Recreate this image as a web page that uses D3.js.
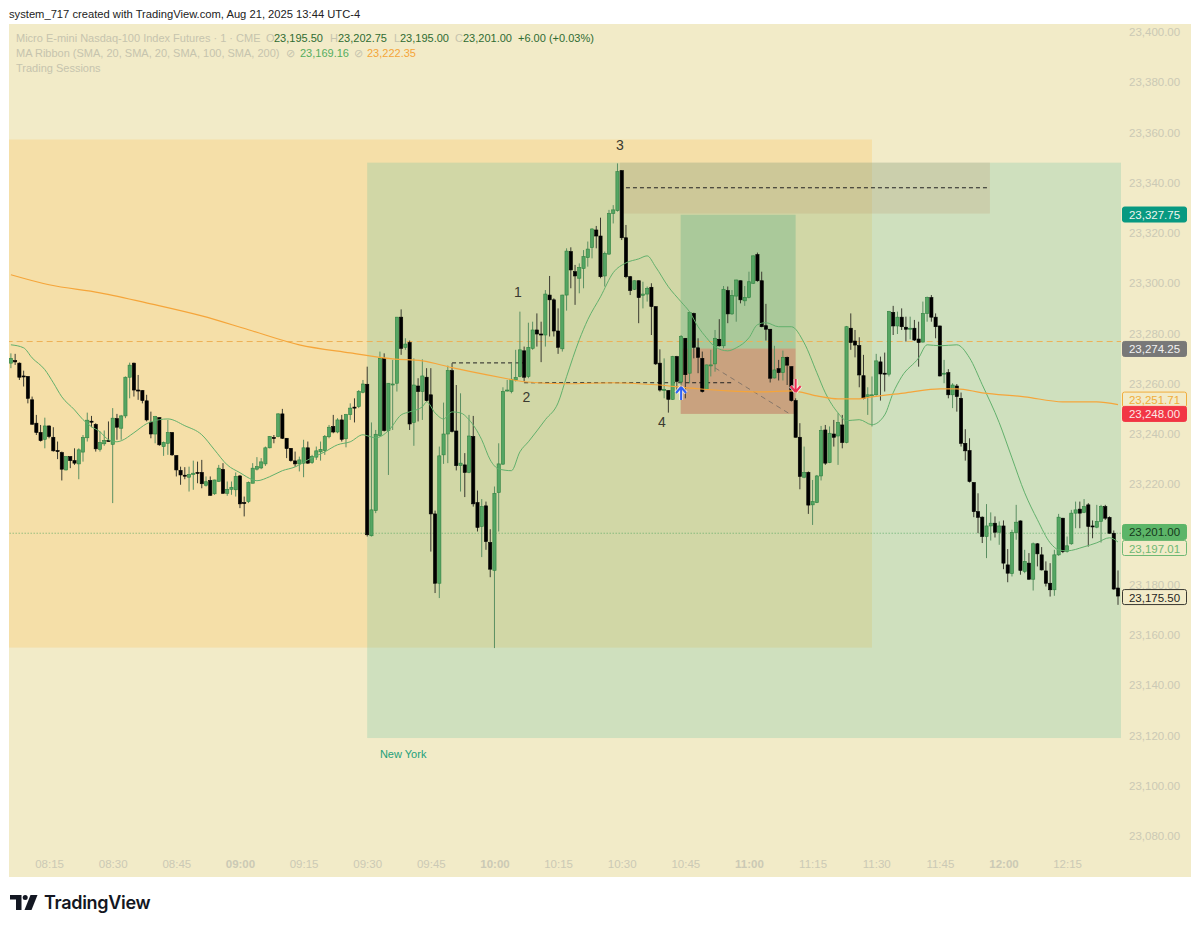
<!DOCTYPE html>
<html lang="en">
<head>
<meta charset="utf-8">
<title>MNQ 1 minute</title>
<script src="https://d3js.org/d3.v7.min.js"></script>
<style type="text/css">
  html, body { margin: 0; padding: 0; background: #fff; }
  svg { display: block; }
  text { font-family: "Liberation Sans", sans-serif; }
  .axis path, .axis line { display: none; }
  .axis text { fill: #cbc9b5; font-size: 11.5px; font-family: "Liberation Sans", sans-serif; }
</style>
</head>
<body>
<svg width="1200" height="929"></svg>
<script>

// one minute bars, bar 0 is 08:06
var opens = [
23268.2,23269.2,23268.2,23263.1,23262.9,23253.6,23244.3,23240.6,23237.9,23243.2,
23238.7,23233.4,23232.6,23225.7,23231,23229.4,23228.1,23232.8,23238.5,23245.1,
23243.8,23233.9,23236.1,23237.4,23235.9,23246.1,23242.3,23247.2,23262.6,23268.2,
23257.5,23257.3,23253.2,23244.7,23240,23246.5,23235,23236.3,23240.6,23231.4,
23225.5,23223.6,23222.8,23223.9,23224.7,23224.7,23219.6,23221.5,23216.2,23221.1,
23225.9,23216.4,23218,23217.8,23223.3,23212.7,23213.1,23220.4,23226,23226.5,
23228.1,23234.5,23238.6,23239,23248,23238.3,23234.3,23229.3,23228.1,23228.4,
23234.5,23228.6,23230.8,23232.9,23233.4,23238.9,23243,23240.8,23245.6,23238.1,
23247.7,23250.7,23250.9,23256.6,23259.8,23199.5,23209.5,23239.4,23270.1,23241.4,
23259.7,23260.2,23286.5,23274.5,23276.4,23244.6,23259.1,23256.9,23262.6,23255.6,
23208.2,23180.6,23231.7,23240,23265.2,23241.2,23227.4,23227.7,23224.7,23239,
23212.7,23203.2,23211.4,23196.8,23185.7,23216.7,23228,23257.3,23256.9,23261.5,
23262.9,23273.1,23262.9,23274.1,23281.4,23279.8,23279.4,23295.3,23293.4,23281,
23273.9,23295.3,23312.6,23304.6,23302,23305.9,23310.2,23314.2,23321.2,23318.8,
23302.9,23311.6,23327.8,23328.9,23344.8,23318.1,23302.6,23297.6,23301,23295.2,
23295.7,23298.4,23290.7,23268.2,23257.3,23257.3,23253.8,23270.8,23260.7,23278.1,
23264.2,23288,23274.3,23270.1,23257.8,23267.2,23267.9,23277.7,23275.1,23297.1,
23287.8,23294.9,23301,23293,23294.4,23300,23311.4,23301,23283.1,23281.7,
23262.3,23266,23264.4,23270.5,23266.8,23253.3,23238.7,23222.8,23224.7,23211.8,
23212.7,23223.3,23241.6,23228.6,23240,23239.2,23243.6,23236.6,23282.1,23277,
23275.2,23263.2,23254.9,23255.2,23255.6,23268.7,23264.2,23263.8,23288.4,23283,
23286.5,23282.5,23281.8,23282.1,23277.8,23276.6,23288,23294.3,23286.5,23283,
23263.8,23264.4,23255.6,23259.1,23254.2,23236.3,23233.4,23220.7,23209.1,23206.9,
23199.2,23203.4,23204.5,23200.9,23203.4,23187.9,23184.4,23200.8,23205.4,23185.3,
23188.6,23182.2,23196.3,23191.9,23185.5,23180.6,23178,23191.9,23206.5,23193.2,
23196.3,23208.5,23210.1,23208.8,23211.8,23203.4,23202.9,23205.2,23211.1,23206.8,
23200.5,23178.7];

var highs = [
23272.1,23271.9,23268.5,23265.2,23263,23254.9,23247.6,23243.6,23246.5,23243.4,
23242.7,23237,23233,23231.1,23231.1,23234.3,23234.3,23239.6,23248.5,23247.2,
23244.3,23241,23241.4,23245,23250.3,23248,23247.6,23262.9,23268.4,23268.4,
23263.5,23257.5,23255.6,23248.9,23247.2,23246.6,23237,23245.6,23240.7,23231.5,
23227,23226.8,23227,23229.4,23229,23229.7,23223.1,23223.1,23221.8,23227.7,
23228.4,23221.1,23221.1,23224.7,23223.7,23215.1,23221.1,23228.4,23230.8,23230.4,
23235,23239.2,23239.6,23248.3,23250,23238.4,23234.4,23233,23231,23237.7,
23237,23231.7,23235,23237,23239.6,23243.6,23247.6,23246.3,23247.6,23248,
23252.2,23254.2,23257.5,23261.5,23266.8,23244.6,23241.6,23272.8,23272.1,23260.3,
23269.5,23286.6,23289.6,23278.1,23277.2,23270.1,23262.2,23269.7,23266.2,23266.2,
23209.5,23235,23252.5,23267.2,23268.2,23259.5,23256.2,23232.4,23247.6,23247.2,
23217.5,23214.1,23213.1,23202.1,23219.1,23236.3,23258.6,23261.5,23268.2,23273.5,
23288.7,23274.8,23284.3,23284.7,23288,23284.7,23297.3,23302.9,23294,23290,
23295.4,23313.9,23314.3,23307.3,23307.9,23313.2,23316.6,23321.9,23322.8,23326.1,
23312.6,23329.2,23331.1,23347.7,23345,23323.2,23302.9,23301.1,23301.1,23300.6,
23298.7,23300,23290.8,23273.7,23270.1,23257.4,23271.1,23271.1,23279.4,23278.2,
23288.7,23288.3,23278.1,23272.8,23267.6,23273.5,23281.4,23285.7,23298.9,23298.7,
23297.3,23301.4,23301.1,23298.9,23304.6,23311.1,23312.2,23304.6,23291.8,23281.8,
23275.1,23269.5,23273.2,23270.8,23266.9,23254.2,23244.3,23235,23225.1,23221.7,
23223.7,23243.2,23243.6,23243,23245.6,23248.3,23247.6,23283,23288,23281.4,
23278.5,23271.5,23258.6,23262.9,23271.9,23270.8,23272.4,23289,23291,23288.7,
23290,23286.7,23286.7,23285.4,23284.7,23292.7,23294.7,23295.3,23288,23283.1,
23269.5,23265.8,23260.2,23259.9,23256.5,23241.9,23238.3,23220.8,23216.4,23207.2,
23212.1,23208.8,23207.2,23205.2,23205.6,23194.2,23201.9,23211.8,23205.6,23193.9,
23192.6,23196.8,23196.6,23195,23189.3,23188.6,23193.9,23208.2,23206.6,23199.2,
23209.8,23213.1,23213.1,23214.1,23212.5,23205.6,23211.8,23211.8,23211.8,23207.2,
23201.6,23185.7];

var lows = [
23266.2,23267.5,23261.5,23258.9,23252.2,23243.6,23239.6,23237,23234.3,23238.3,
23233,23230,23221.5,23225.5,23226.4,23227.7,23222,23229,23237,23242.7,
23233,23233,23235.3,23237,23212.5,23237.7,23237.7,23246.3,23254.2,23254.9,
23253.6,23252.2,23245,23238.3,23236.3,23235.3,23231.3,23231.7,23231.3,23223.1,
23219.8,23222,23217.1,23217.8,23220.4,23218.4,23219.1,23215.4,23215.8,23221,
23216.2,23215.4,23215.8,23215.1,23210.5,23207.2,23212.5,23220.4,23225.5,23226,
23227.3,23234.3,23236.3,23238.7,23238,23230.4,23229,23227,23225.1,23222.8,
23228.1,23228.1,23229.7,23229.4,23231.7,23238.3,23240.3,23240.3,23237,23234.7,
23245.6,23244.6,23250.3,23256.2,23199.2,23199.2,23208.5,23239,23241,23223.7,
23241.6,23256.9,23271.5,23273.5,23241.6,23235.3,23245,23245.6,23252.9,23193.2,
23176.7,23174.7,23228.1,23228.4,23240.6,23225.5,23217.1,23214.9,23224.4,23211.1,
23201.2,23191,23193.9,23183,23154.8,23201.2,23227.7,23256.9,23256.2,23260.9,
23262.6,23260.9,23262.2,23273.5,23274.8,23268.6,23274.8,23278.8,23278.8,23271.9,
23272.8,23289.1,23298,23291.4,23296,23298,23306.6,23309.9,23313.9,23302,
23298.7,23311.3,23323.8,23328.5,23317.2,23302,23295.3,23297.3,23284.1,23290,
23292.7,23279.4,23267.5,23256.9,23254.2,23248.5,23253.6,23256.2,23259.5,23254.2,
23260.2,23270.1,23264.2,23256.5,23257.5,23262.9,23264.8,23274.8,23274.1,23284.1,
23287.4,23284.7,23292,23291,23294,23299.7,23300.6,23282.5,23277.2,23260.5,
23262.1,23261.3,23261.3,23259.5,23252.9,23238.6,23218,23222.4,23208.2,23203.8,
23212.5,23221.5,23227.7,23228.4,23235,23227.7,23234.3,23236.3,23273.5,23270.5,
23258.6,23253.8,23247.6,23243,23255.3,23253.3,23256.9,23262.9,23279.4,23279.8,
23281.4,23276.8,23277.7,23277,23266.8,23276.4,23284.7,23284.7,23278.1,23262.9,
23260.2,23254.2,23250.3,23248.9,23235,23229.4,23220.7,23206.9,23200.5,23196.6,
23190.6,23197.6,23198.8,23195.9,23186.2,23181,23183.3,23197.9,23184,23184.6,
23182,23177.7,23187.3,23185.7,23179.3,23175.3,23175.6,23191.5,23192.6,23192.8,
23195.9,23202.5,23202.5,23208.5,23195.2,23198.5,23202.5,23196.8,23205.8,23200.3,
23178,23172];

var closes = [
23270.1,23268.7,23262.6,23262.9,23254.2,23243.9,23240.6,23237.4,23243.2,23239,
23233.3,23233,23226,23231,23229.4,23228.4,23233.7,23238.6,23245.5,23244.8,
23234.1,23236.6,23237.4,23237.1,23246.3,23242.7,23247.2,23262.6,23267.4,23257.5,
23257.3,23253.3,23245.6,23240,23246.9,23235.7,23236.6,23240.6,23231.7,23225.7,
23223.7,23223.2,23223.9,23224.4,23224.4,23220.2,23221,23215.6,23221.7,23226.4,
23216.4,23218,23218.8,23223.1,23212.2,23212.5,23220.7,23226.4,23227,23228.9,
23234.5,23239,23238.3,23248,23238.3,23234.2,23229.4,23228.1,23229.7,23234.5,
23228.4,23231,23233.3,23233.9,23239,23242.7,23240.8,23245.6,23237.9,23247.7,
23250.3,23250.4,23256.9,23259.9,23199.9,23209.8,23239.9,23270.1,23241.4,23260.2,
23259.9,23286.5,23274.1,23275.8,23244,23259.5,23256.9,23263.1,23253.3,23208.2,
23180.6,23231.3,23240,23265.2,23241,23227.4,23228.4,23224.7,23239.2,23212.2,
23202.8,23211.1,23197.2,23186.2,23216.4,23228.1,23256.9,23257.5,23261.8,23262.5,
23273.5,23262.6,23274.5,23281.4,23279.8,23279.4,23295.7,23293.4,23281,23274.5,
23295.3,23312.8,23305.3,23302.9,23306.3,23310.6,23313.6,23321.6,23318.8,23302.6,
23311.9,23327.8,23329.2,23344.4,23318.1,23302.6,23297.1,23301,23294.3,23295.7,
23298,23290.7,23267.9,23257.5,23257.8,23253.8,23270.8,23260.9,23278.8,23263.6,
23288.3,23274.5,23270.5,23256.9,23267.5,23267.5,23278.1,23275.1,23297.6,23287.8,
23295.2,23301.3,23293.4,23294.3,23300.6,23310.9,23301,23282.7,23281.7,23262.2,
23265.5,23264.4,23270.5,23267.4,23253.3,23238.7,23223.1,23224.7,23211.7,23213.1,
23223.3,23241.4,23228.4,23240.3,23238.7,23244.6,23236.6,23282.7,23276.4,23275.4,
23263.5,23254.2,23255.6,23255.6,23269.1,23263.9,23263.9,23288.7,23283,23286.5,
23282.7,23281.7,23282.1,23277.4,23276.4,23288,23294.3,23286.5,23282.7,23263.1,
23264.2,23255.6,23259.5,23254.9,23236.3,23233.3,23221.1,23209.1,23206.8,23199.2,
23203.4,23204.5,23200.9,23203.4,23188.6,23184.6,23200.8,23204.9,23185.7,23189.3,
23182.2,23196.3,23192.3,23185.9,23180.6,23178,23191.9,23206.9,23193.2,23195.5,
23208.5,23209.8,23208.5,23211.1,23203.2,23203.2,23205.2,23211.1,23206.5,23200.5,
23178.3,23175.5];

// moving averages at the bars listed
var ma20Bars = [0,3,5,8,10,12,15,17,19,21,23,25,26,29,32,35,37,41,45,48,51,54,57,58,61,64,67,70,74,77,80,83,84,86,89,92,94,97,98,100,102,104,106,108,111,113,115,118,120,122,126,129,131,134,136,139,142,145,148,150,152,155,158,160,162,164,166,169,171,174,176,178,181,184,187,190,192,195,197,200,203,206,208,210,214,216,219,223,226,229,233,236,239,242,245,247,249,253,256,259,261];
var ma20Values = [23275.5,23274.3,23270.3,23265.6,23260.4,23254.8,23249.6,23245.7,23242.9,23240.9,23237.7,23236.9,23237.3,23240.5,23244.1,23245.7,23246,23243.3,23239.7,23233.7,23227.7,23224.6,23221.8,23221.4,23223,23225.4,23226.9,23229.7,23232.9,23235.7,23236.9,23239.7,23239.3,23238.5,23241.3,23247.6,23248.8,23250.8,23252.8,23248.4,23246,23248.8,23248.4,23245.7,23237.7,23229.7,23226.1,23225.4,23232.9,23236.9,23245.7,23252.4,23262.8,23277.5,23285.5,23294.6,23304.2,23308.1,23309.7,23310.9,23306.5,23298.6,23292.6,23288.6,23282.7,23278.3,23274.7,23273.1,23274.3,23278.3,23283.5,23284.3,23282.7,23282.7,23276.3,23264.4,23256.4,23248.4,23245.3,23245.7,23243.7,23247.6,23256.4,23262.8,23270.3,23275.5,23275.1,23275.5,23270.3,23259.6,23244.5,23230.5,23216.6,23205.9,23196.7,23193.9,23193.5,23195.1,23196.7,23198.7,23197];

var ma200Bars = [0,9,21,33,45,56,68,80,90,97,104,112,117,121,131,142,152,162,169,177,184,190,195,200,203,211,219,223,229,239,248,256,261];
var ma200Values = [23303.4,23299.4,23296.2,23291.8,23287,23281.5,23275.5,23272.3,23269.9,23269.1,23266.4,23263.6,23262,23260.8,23260,23260.4,23259.6,23258,23257.2,23256.8,23257.2,23255.2,23254,23254,23254.8,23256.4,23258,23258,23256.4,23254.8,23252.8,23252.8,23251.7];

// axes
var priceTicks = [23400,23380,23360,23340,23320,23300,23280,23260,23240,23220,23200,23180,23160,23140,23120,23100,23080];
var timeTickBars = [9,24,39,54,69,84,99,114,129,144,159,174,189,204,219,234,249];
var timeTickLabels = ["08:15","08:30","08:45","09:00","09:15","09:30","09:45","10:00","10:15","10:30","10:45","11:00","11:15","11:30","11:45","12:00","12:15"];

// price tags on the axis: value, text colour, fill, border, nudge so they do not overlap
var tagLabels = ["23,327.75","23,274.25","23,251.71","23,248.00","23,201.00","23,197.01","23,175.50"];
var tagPrices = [23327.75,23274.25,23251.71,23248,23201,23197.01,23175.5];
var tagNudges = [1,1,-5,0,0,6,1];
var tagFills = ["#089981","#787878","#f2ebc8","#f23645","#5cb568","#f2ebc8","#f2ebc8"];
var tagStrokes = ["#089981","#787878","#f0ad3c","#f23645","#5cb568","#6fb874","#3a3a32"];
var tagTexts = ["#eef6ef","#f2f2f2","#f0ad3c","#fbe9e6","#16381c","#6fb874","#26261f"];

var svg = d3.select("svg"),
    pane = {left: 9, right: 1121, top: 24, bottom: 877},
    axisRight = 1191;

var xScale = d3.scaleLinear().domain([0, 261]).range([10.9, 1118]);
var yScale = d3.scaleLinear().domain([23080, 23400]).range([836, 32]);

// background, the price axis has the same colour
svg.append("rect")
    .attr("x", pane.left).attr("y", pane.top)
    .attr("width", axisRight - pane.left).attr("height", pane.bottom - pane.top)
    .attr("fill", "#f2ebc8");

svg.append("clipPath").attr("id", "paneClip").append("rect")
    .attr("x", pane.left).attr("y", pane.top)
    .attr("width", pane.right - pane.left).attr("height", pane.bottom - pane.top);

var g = svg.append("g").attr("clip-path", "url(#paneClip)");

function box(bar0, bar1, p0, p1, fill) {
  g.append("rect")
      .attr("x", xScale(bar0))
      .attr("y", yScale(p0))
      .attr("width", xScale(bar1) - xScale(bar0))
      .attr("height", yScale(p1) - yScale(p0))
      .attr("fill", fill);
}

function level(bar0, bar1, p0, p1, color, dash) {
  g.append("line")
      .attr("x1", xScale(bar0)).attr("x2", xScale(bar1))
      .attr("y1", yScale(p0)).attr("y2", yScale(p1))
      .attr("stroke", color)
      .attr("stroke-width", 1)
      .attr("stroke-dasharray", dash);
}

// sessions and drawings
box(-1, 203, 23357.2, 23155, "rgba(254,188,72,.25)");
box(84, 262, 23348, 23119, "rgba(102,192,160,.25)");
box(143.6, 230.8, 23348, 23327.75, "rgba(190,140,100,.2)");
box(157.9, 185, 23327.25, 23274, "rgba(56,158,120,.25)");
box(157.9, 185, 23274, 23248, "rgba(183,41,36,.3)");

level(-1, 262, 23276.8, 23276.8, "#eeb056", "6,4");
level(-1, 262, 23200.5, 23200.5, "rgba(70,160,90,.8)", "1,2");
level(145, 230.8, 23338, 23338, "#222", "4,3");
level(104, 121, 23268.3, 23268.3, "#222", "4,3");
level(121, 170, 23260.4, 23260.4, "#222", "4,3");
level(166, 184, 23266.3, 23247.6, "rgba(90,90,90,.6)", "5,4");

// candles
var barIndex = d3.range(opens.length);

g.selectAll(".wick")
  .data(barIndex)
  .enter().append("line")
    .attr("class", "wick")
    .attr("x1", function(i) { return xScale(i); })
    .attr("x2", function(i) { return xScale(i); })
    .attr("y1", function(i) { return yScale(highs[i]); })
    .attr("y2", function(i) { return yScale(lows[i]); })
    .attr("stroke", function(i) { return closes[i] >= opens[i] ? "#5a8f62" : "#3a3a30"; })
    .attr("stroke-width", 1);

g.selectAll(".body")
  .data(barIndex)
  .enter().append("rect")
    .attr("class", "body")
    .attr("x", function(i) { return xScale(i) - 1.6; })
    .attr("y", function(i) { return yScale(Math.max(opens[i], closes[i])); })
    .attr("width", 3.2)
    .attr("height", function(i) { return Math.max(1, Math.abs(yScale(opens[i]) - yScale(closes[i]))); })
    .attr("fill", function(i) { return closes[i] >= opens[i] ? "#55a563" : "#000"; })
    .attr("stroke", function(i) { return closes[i] >= opens[i] ? "#2f8240" : "#000"; })
    .attr("stroke-width", 0.6);

// moving averages
function maLine(bars, values, color, width) {
  var line = d3.line()
      .x(function(b) { return xScale(b); })
      .y(function(b, i) { return yScale(values[i]); })
      .curve(d3.curveMonotoneX);
  g.append("path")
      .attr("d", line(bars))
      .attr("fill", "none")
      .attr("stroke", color)
      .attr("stroke-width", width);
}
maLine(ma20Bars, ma20Values, "#62b06c", 1);
maLine(ma200Bars, ma200Values, "#f5a53a", 1.2);

// entry and exit arrows
function arrow(bar, top, d, color) {
  var a = g.append("g").attr("transform", "translate(" + xScale(bar) + "," + top + ")");
  a.append("path").attr("d", d).attr("fill", "none").attr("stroke", "#fff").attr("stroke-width", 4).attr("opacity", 0.7);
  a.append("path").attr("d", d).attr("fill", "none").attr("stroke", color).attr("stroke-width", 2);
}
arrow(158, 387, "M0,0 L-5,6 M0,0 L5,6 M0,0 L0,13", "#2f62f5");
arrow(185, 379, "M0,13 L-5,7 M0,13 L5,7 M0,13 L0,0", "#ee2f55");

// wave numbers
var waveLabels = ["1","2","3","4"],
    waveBars = [119.5,121.5,143.6,153.5],
    wavePrices = [23296.6,23254.8,23355,23244.9];

g.selectAll(".wave")
  .data(waveLabels)
  .enter().append("text")
    .attr("class", "wave")
    .attr("x", function(d, i) { return xScale(waveBars[i]); })
    .attr("y", function(d, i) { return yScale(wavePrices[i]); })
    .attr("text-anchor", "middle")
    .attr("dominant-baseline", "central")
    .attr("font-size", "14px")
    .attr("fill", "#3a3a30")
    .text(function(d) { return d; });

g.append("text")
    .attr("x", xScale(87)).attr("y", yScale(23112.7))
    .attr("dominant-baseline", "central")
    .attr("font-size", "11px")
    .attr("fill", "#22a07a")
    .text("New York");

// axes
svg.append("g")
    .attr("class", "axis")
    .attr("transform", "translate(1129,0)")
    .call(d3.axisRight(yScale).tickValues(priceTicks).tickSize(0).tickPadding(0).tickFormat(d3.format(",.2f")));

svg.append("g")
    .attr("class", "axis")
    .attr("transform", "translate(0,860)")
    .call(d3.axisBottom(xScale).tickValues(timeTickBars).tickSize(0).tickPadding(0)
      .tickFormat(function(d, i) { return timeTickLabels[i]; }))
  .selectAll("text")
    .attr("font-weight", function(d, i) { return /:00$/.test(timeTickLabels[i]) ? "bold" : "normal"; });

// price tags
var tags = svg.selectAll(".tag")
  .data(tagLabels)
  .enter().append("g")
    .attr("class", "tag")
    .attr("transform", function(d, i) { return "translate(1122," + (yScale(tagPrices[i]) + tagNudges[i]) + ")"; });

tags.append("rect")
    .attr("x", 0.5).attr("y", -7.5)
    .attr("width", 64).attr("height", 15)
    .attr("rx", 2)
    .attr("fill", function(d, i) { return tagFills[i]; })
    .attr("stroke", function(d, i) { return tagStrokes[i]; });

tags.append("text")
    .attr("x", 32.5).attr("y", 0.5)
    .attr("text-anchor", "middle")
    .attr("dominant-baseline", "central")
    .attr("font-size", "11.5px")
    .attr("fill", function(d, i) { return tagTexts[i]; })
    .text(function(d) { return d; });

// header texts
function label(x, y, txt, color, size) {
  svg.append("text")
      .attr("x", x).attr("y", y)
      .attr("dominant-baseline", "central")
      .attr("font-size", size || "11px")
      .attr("fill", color)
      .text(txt);
}
var legendGray = "#c6c4ae", priceGreen = "#2f6b32";

label(9, 14, "system_717 created with TradingView.com, Aug 21, 2025 13:44 UTC-4", "#222", "11.2px");

label(16, 37.5, "Micro E-mini Nasdaq-100 Index Futures \u00b7 1 \u00b7 CME", legendGray);
label(266, 37.5, "O", legendGray);
label(274, 37.5, "23,195.50", priceGreen);
label(330, 37.5, "H", legendGray);
label(338, 37.5, "23,202.75", priceGreen);
label(394, 37.5, "L", legendGray);
label(400, 37.5, "23,195.00", priceGreen);
label(455, 37.5, "C", legendGray);
label(463, 37.5, "23,201.00", priceGreen);
label(518, 37.5, "+6.00 (+0.03%)", priceGreen);

label(16, 53, "MA Ribbon (SMA, 20, SMA, 20, SMA, 100, SMA, 200)", legendGray);
label(286, 53, "\u2298", legendGray);
label(300, 53, "23,169.16", "#55ad5f");
label(354, 53, "\u2298", legendGray);
label(367, 53, "23,222.35", "#f5a53a");

label(16, 68, "Trading Sessions", legendGray);

// TradingView logo
var logo = svg.append("g").attr("fill", "#131722");
logo.append("path").attr("d", "M10,895 H21.5 V910 H16 V899.5 H10 Z");
logo.append("circle").attr("cx", 25.2).attr("cy", 897.6).attr("r", 2.5);
logo.append("path").attr("d", "M30.5,895 H37.5 L31.5,910 H24.5 Z");
svg.append("text")
    .attr("x", 44).attr("y", 908.5)
    .attr("font-size", "18px")
    .attr("font-weight", 600)
    .attr("letter-spacing", "-0.3px")
    .attr("fill", "#131722")
    .style("font-family", "Inter, sans-serif")
    .text("TradingView");

</script>
</body>
</html>
